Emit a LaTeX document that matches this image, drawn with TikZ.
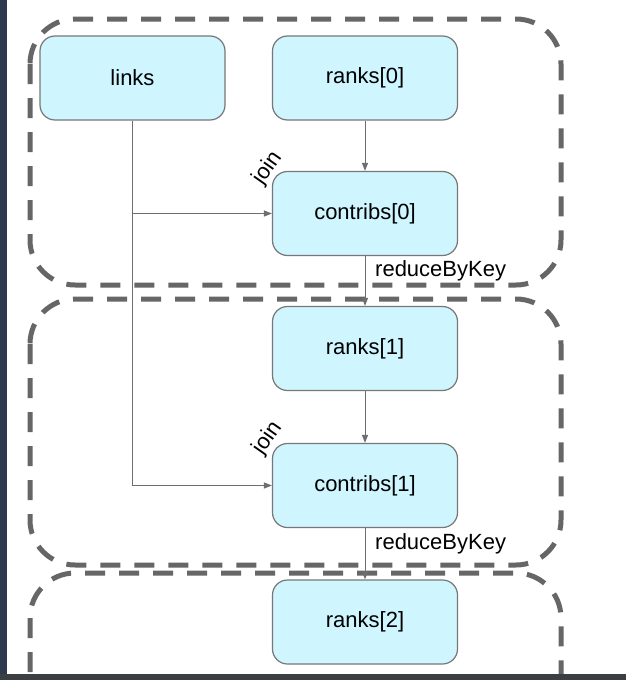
\documentclass[tikz,border=0pt]{standalone}
\usepackage{fontspec}
\setmainfont{Liberation Sans}
\usetikzlibrary{arrows.meta}
\definecolor{boxfill}{HTML}{CFF5FF}
\definecolor{boxline}{HTML}{777777}
\definecolor{stageline}{HTML}{666666}
\definecolor{linkline}{HTML}{6E6E6E}
\definecolor{sidebar}{HTML}{2F394D}
\definecolor{footbar}{HTML}{3B3E43}
\tikzset{
  stepbox/.style={draw=boxline, line width=1.2pt, fill=boxfill, rounded corners=15pt,
    minimum width=185pt, minimum height=84pt, inner sep=0pt,
    font=\fontsize{22}{26}\selectfont},
  stage/.style={draw=stageline, line width=5pt, rounded corners=45pt,
    dash pattern=on 20pt off 14pt},
  flow/.style={draw=linkline, line width=1pt, -{Triangle[length=8pt,width=6pt]}},
  plain/.style={draw=linkline, line width=1pt},
  lab/.style={inner sep=0pt, font=\fontsize{22}{26}\selectfont}
}
\begin{document}
\begin{tikzpicture}[x=1pt,y=-1pt]
  \useasboundingbox (0,0) rectangle (626,680);
  \clip (0,0) rectangle (626,680);
  \fill[white] (0,0) rectangle (626,680);

  % iteration stages
  \draw[stage] (30,19) rectangle (561,285);
  \draw[stage] (30,299) rectangle (561,565);
  \draw[stage] (30,573) rectangle (561,760);

  % datasets
  \node[stepbox] (links)     at (132.5,78)  {links};
  \node[stepbox] (ranks0)    at (365,78)    {ranks[0]};
  \node[stepbox] (contribs0) at (365,213.5) {contribs[0]};
  \node[stepbox] (ranks1)    at (365,348.5) {ranks[1]};
  \node[stepbox] (contribs1) at (365,485.5) {contribs[1]};
  \node[stepbox] (ranks2)    at (365,622)   {ranks[2]};

  % links joined into every iteration
  \draw[plain] (links.south) -- (links.south |- contribs1.west);
  \draw[flow] (links.south |- contribs0.west) -- (contribs0.west);
  \draw[flow] (links.south |- contribs1.west) -- (contribs1.west);

  % rank updates
  \draw[flow] (ranks0) -- (contribs0);
  \draw[flow] (contribs0) -- (ranks1);
  \draw[flow] (ranks1) -- (contribs1);
  \draw[flow] (contribs1) -- (ranks2);

  % operation labels
  \node[lab, rotate=55] (join0) at (268,168) {join};
  \node[lab, rotate=55] (join1) at (268,438) {join};
  \node[lab, anchor=west] (reduce0) at (375,271) {reduceByKey};
  \node[lab, anchor=west] (reduce1) at (375,544) {reduceByKey};

  % window frame
  \fill[sidebar] (0,0) rectangle (7,680);
  \fill[footbar] (0,674) rectangle (626,680);
\end{tikzpicture}
\end{document}
